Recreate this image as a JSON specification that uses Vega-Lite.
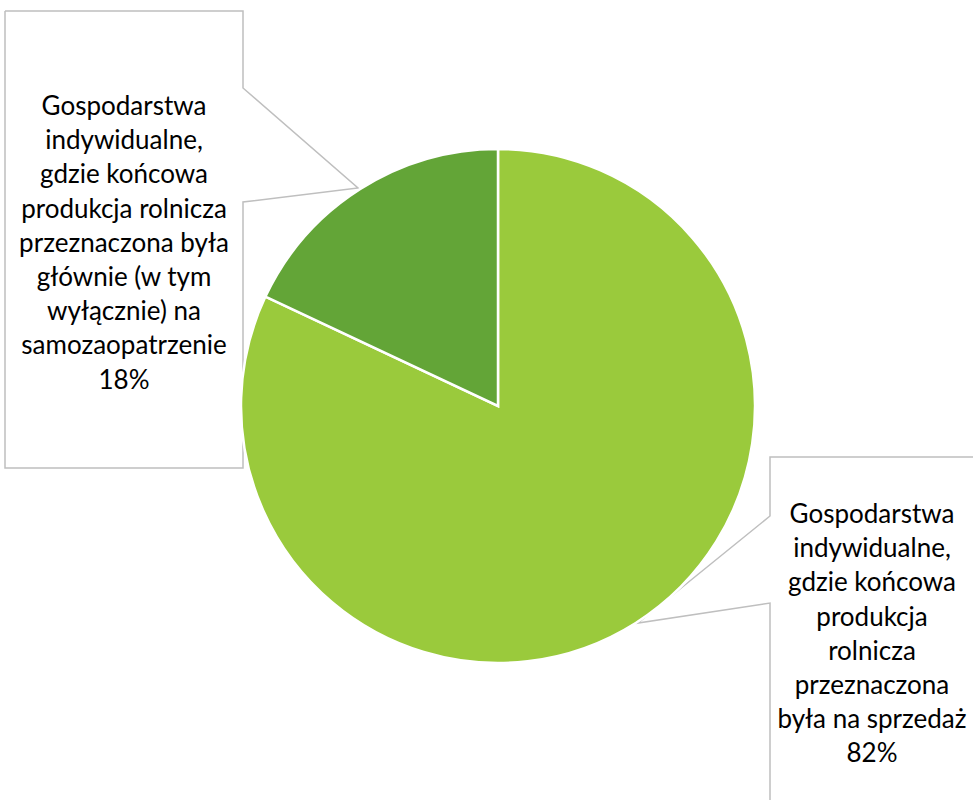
{
  "$schema": "https://vega.github.io/schema/vega-lite/v6.json",
  "width": 973,
  "height": 800,
  "padding": 0,
  "autosize": {"type": "none"},
  "background": "white",
  "config": {"view": {"stroke": null}},
  "layer": [
    {
      "data": {"values": [
        {"callout": "left", "i": 0, "px": 5, "py": 11},
        {"callout": "left", "i": 1, "px": 243, "py": 11},
        {"callout": "left", "i": 2, "px": 243, "py": 88},
        {"callout": "left", "i": 3, "px": 358, "py": 188},
        {"callout": "left", "i": 4, "px": 243, "py": 202},
        {"callout": "left", "i": 5, "px": 243, "py": 468},
        {"callout": "left", "i": 6, "px": 5, "py": 468},
        {"callout": "left", "i": 7, "px": 5, "py": 11},
        {"callout": "right", "i": 0, "px": 1000, "py": 457},
        {"callout": "right", "i": 1, "px": 770, "py": 457},
        {"callout": "right", "i": 2, "px": 770, "py": 516},
        {"callout": "right", "i": 3, "px": 638, "py": 623},
        {"callout": "right", "i": 4, "px": 770, "py": 603},
        {"callout": "right", "i": 5, "px": 770, "py": 830}
      ]},
      "mark": {"type": "line", "stroke": "#BFBFBF", "strokeWidth": 1.5, "clip": true},
      "encoding": {
        "x": {"field": "px", "type": "quantitative", "scale": {"domain": [0, 973], "nice": false, "zero": false}, "axis": null},
        "y": {"field": "py", "type": "quantitative", "scale": {"domain": [800, 0], "nice": false, "zero": false}, "axis": null},
        "detail": {"field": "callout"},
        "order": {"field": "i"}
      }
    },
    {
      "data": {"values": [
        {"category": "Gospodarstwa indywidualne, gdzie końcowa produkcja rolnicza przeznaczona była na sprzedaż", "value": 82},
        {"category": "Gospodarstwa indywidualne, gdzie końcowa produkcja rolnicza przeznaczona była głównie (w tym wyłącznie) na samozaopatrzenie", "value": 18}
      ]},
      "mark": {"type": "arc", "outerRadius": 257, "stroke": "white", "strokeWidth": 2.5},
      "encoding": {
        "theta": {"field": "value", "type": "quantitative", "stack": true},
        "order": {"field": "value", "sort": "descending"},
        "color": {"field": "category", "type": "nominal", "legend": null,
          "scale": {"domain": [
            "Gospodarstwa indywidualne, gdzie końcowa produkcja rolnicza przeznaczona była na sprzedaż",
            "Gospodarstwa indywidualne, gdzie końcowa produkcja rolnicza przeznaczona była głównie (w tym wyłącznie) na samozaopatrzenie"
          ], "range": ["#9ACA3C", "#63A537"]}},
        "x": {"datum": 498, "type": "quantitative"},
        "y": {"datum": 406, "type": "quantitative"}
      }
    },
    {
      "data": {"values": [
        {"label": "Gospodarstwa\nindywidualne,\ngdzie końcowa\nprodukcja rolnicza\nprzeznaczona była\ngłównie (w tym\nwyłącznie) na\nsamozaopatrzenie\n18%", "lx": 124, "ly": 115},
        {"label": "Gospodarstwa\nindywidualne,\ngdzie końcowa\nprodukcja\nrolnicza\nprzeznaczona\nbyła na sprzedaż\n82%", "lx": 872, "ly": 523}
      ]},
      "mark": {"type": "text", "font": "Lato", "fontSize": 26, "lineHeight": 34.2, "lineBreak": "\n", "align": "center", "baseline": "alphabetic", "color": "#000000"},
      "encoding": {
        "text": {"field": "label"},
        "x": {"field": "lx", "type": "quantitative"},
        "y": {"field": "ly", "type": "quantitative"}
      }
    }
  ]
}
